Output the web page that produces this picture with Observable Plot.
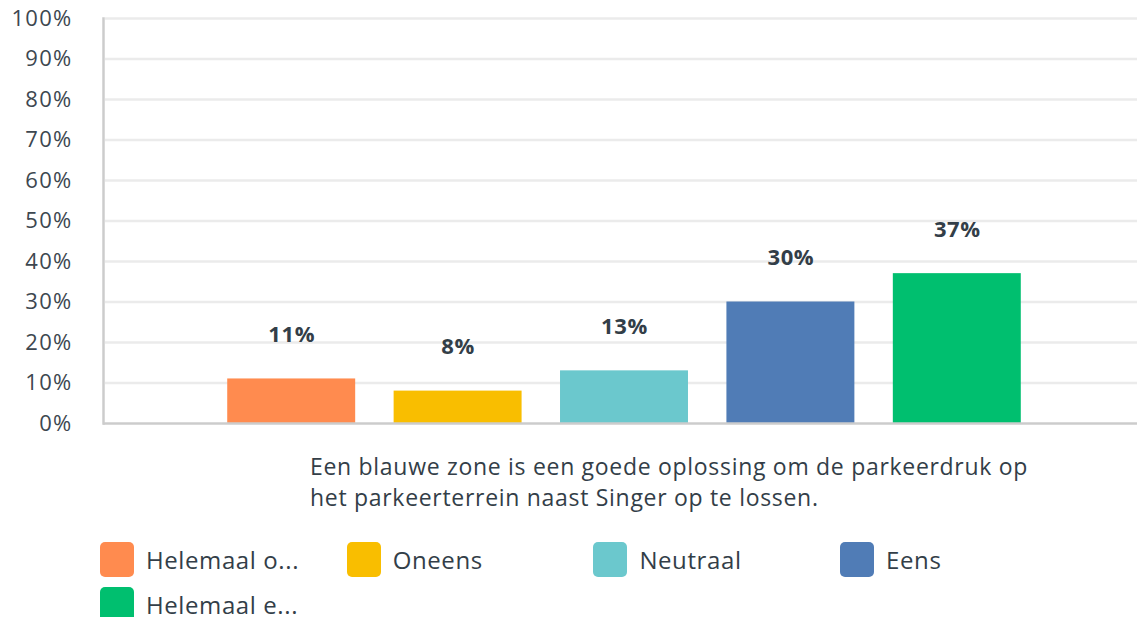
<!DOCTYPE html>
<html>
<head>
<meta charset="utf-8">
<script src="https://cdn.jsdelivr.net/npm/d3@7"></script>
<script src="https://cdn.jsdelivr.net/npm/@observablehq/plot@0.6"></script>
<style>
  html, body { margin: 0; padding: 0; background: #fff; }
  #wrap { position: relative; width: 1137px; height: 617px; overflow: hidden; font-family: "Open Sans", sans-serif; }
  #chart { position: absolute; left: 0; top: 0; }
  #chart svg g[aria-label="y-axis tick label"] text { letter-spacing: 1.3px; }
  #chart svg g[aria-label="text"] text { letter-spacing: 0.6px; }
  #question { position: absolute; left: 310px; top: 451px; font-size: 23px; line-height: 31px; letter-spacing: 0.7px; color: #333e48; white-space: pre-line; }
  #legend { position: absolute; left: 100px; top: 542px; width: 1000px; display: flex; flex-wrap: wrap; row-gap: 10px; }
  .item { width: 246.7px; display: flex; align-items: center; height: 35px; }
  .sw { width: 34px; height: 35px; border-radius: 5px; margin-right: 12px; flex: none; }
  .lb { font-size: 24px; letter-spacing: 0.6px; color: #333e48; white-space: nowrap; }
</style>
</head>
<body>
<div id="wrap">
  <div id="chart"></div>
  <div id="question"></div>
  <div id="legend"></div>
</div>
<script>
const categories = ["Helemaal oneens", "Oneens", "Neutraal", "Eens", "Helemaal eens"];
const legendLabels = ["Helemaal o...", "Oneens", "Neutraal", "Eens", "Helemaal e..."];
const values = [11, 8, 13, 30, 37];
const colors = ["#ff8b4f", "#f9be00", "#6bc8cd", "#507cb6", "#00bf6f"];
const yTicks = [0, 10, 20, 30, 40, 50, 60, 70, 80, 90, 100];
const question = "Een blauwe zone is een goede oplossing om de parkeerdruk op\nhet parkeerterrein naast Singer op te lossen.";

const data = categories.map((c, i) => ({cat: c, value: values[i], label: values[i] + "%"}));

const chart = Plot.plot({
  width: 1137,
  height: 440,
  marginLeft: 103,
  marginRight: 0,
  marginTop: 18,
  marginBottom: 17,
  style: {fontFamily: "Open Sans, sans-serif", background: "#fff", overflow: "visible"},
  x: {domain: categories, range: [208, 1040], paddingInner: 0.231, paddingOuter: 0.1155, round: false, axis: null},
  y: {domain: [0, 100], axis: null},
  color: {domain: categories, range: colors},
  marks: [
    Plot.gridY(yTicks.filter(d => d > 0), {stroke: "#ebebeb", strokeOpacity: 1, strokeWidth: 2.5, insetLeft: 2}),
    Plot.axisY(yTicks, {tickSize: 0, tickPadding: 31, tickFormat: d => d + "%", fontSize: 22, fill: "#3d4750", label: null}),
    Plot.barY(data, {x: "cat", y: "value", fill: "cat"}),
    Plot.text(data, {x: "cat", y: "value", text: "label", dy: -44, fontSize: 22, fontWeight: "bold", fill: "#333e48"}),
    Plot.ruleY([0], {stroke: "#cccccc", strokeWidth: 2.5}),
    Plot.frame({anchor: "left", stroke: "#cccccc", strokeWidth: 2.5})
  ]
});
document.getElementById("chart").appendChild(chart);

document.getElementById("question").textContent = question;

const legend = document.getElementById("legend");
legendLabels.forEach((l, i) => {
  const it = document.createElement("div");
  it.className = "item";
  const sw = document.createElement("div");
  sw.className = "sw";
  sw.style.background = colors[i];
  const lb = document.createElement("span");
  lb.className = "lb";
  lb.textContent = l;
  it.appendChild(sw); it.appendChild(lb);
  legend.appendChild(it);
});
</script>
</body>
</html>
